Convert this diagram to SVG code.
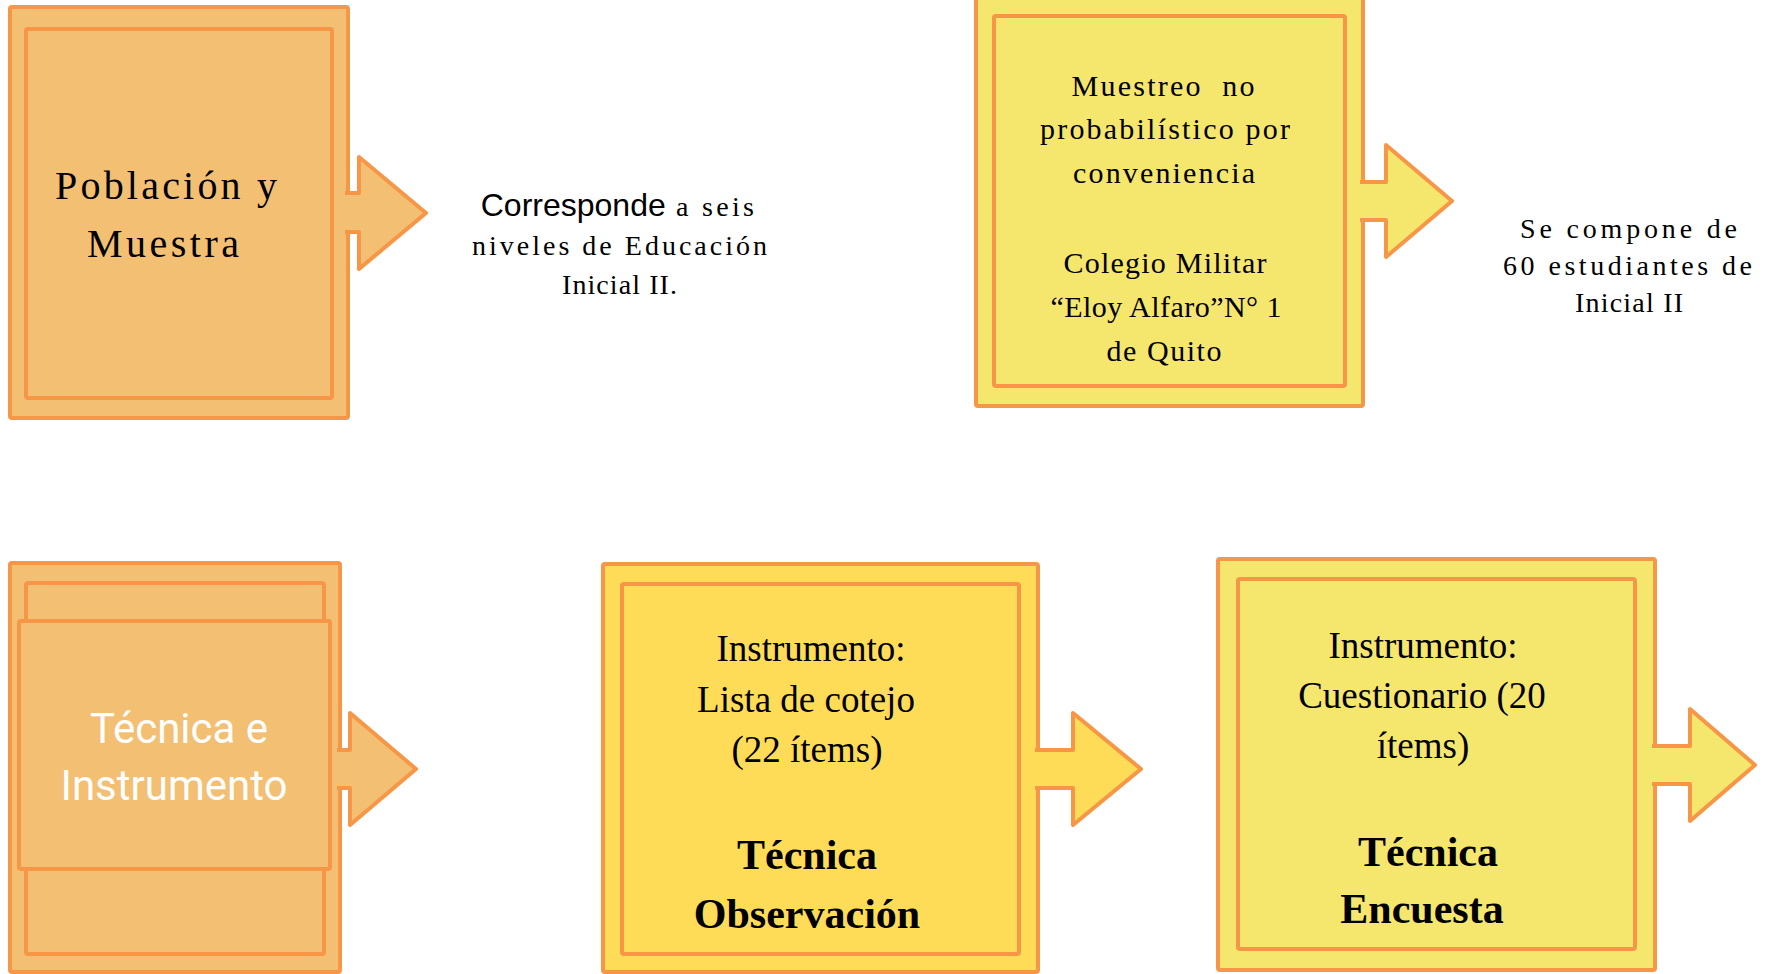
<svg xmlns="http://www.w3.org/2000/svg" width="1766" height="974" viewBox="0 0 1766 974">
<style>
.box{stroke:#F79646;stroke-width:4;stroke-linejoin:round}
.or{fill:#F2BF73}
.ye{fill:#F5E66E}
.go{fill:#FFDC57}
.arr{stroke:#F79646;stroke-width:4;stroke-linejoin:round}
.ser{font-family:"Liberation Serif","Times New Roman",serif;fill:#000;text-anchor:middle}
.sans{font-family:"Liberation Sans",Arial,sans-serif}
.rob{font-family:Roboto,"Liberation Sans",sans-serif;fill:#fff;text-anchor:middle;font-size:42px}
.reg{font-size:37px}
.bold{font-weight:bold;font-size:42px}
</style>
<rect width="1766" height="974" fill="#fff"/>
<g id="poblacion">
<rect class="box or" x="10" y="7" width="338" height="411" rx="2"/>
<rect class="box or" x="26" y="29" width="306" height="369" rx="2"/>
<text class="ser" font-size="40" x="166" y="199" textLength="222" lengthAdjust="spacing">Población y</text>
<text class="ser" font-size="40" x="163" y="257" textLength="152" lengthAdjust="spacing">Muestra</text>
</g>
<g id="corresponde">
<text class="ser" font-size="28" letter-spacing="3.3" x="619" y="216"><tspan class="sans" font-size="32" letter-spacing="0">Corresponde</tspan> a seis</text>
<text class="ser" font-size="28" x="619.5" y="255" textLength="295" lengthAdjust="spacing">niveles de Educación</text>
<text class="ser" font-size="28" x="619.5" y="294" textLength="115" lengthAdjust="spacing">Inicial II.</text>
</g>
<g id="muestreo">
<rect class="box ye" x="976" y="-10" width="387" height="416" rx="2"/>
<rect class="box ye" x="994" y="16" width="351" height="370" rx="2"/>
<g class="ser" font-size="30">
<text x="1163" y="96" textLength="183" lengthAdjust="spacing">Muestreo&#160; no</text>
<text x="1165" y="139" textLength="250" lengthAdjust="spacing">probabilístico por</text>
<text x="1164" y="183" textLength="182" lengthAdjust="spacing">conveniencia</text>
<text x="1165" y="273" textLength="203" lengthAdjust="spacing">Colegio Militar</text>
<text x="1166" y="317" textLength="231" lengthAdjust="spacing">“Eloy Alfaro”N° 1</text>
<text x="1164" y="361" textLength="115" lengthAdjust="spacing">de Quito</text>
</g>
</g>
<g id="compone">
<text class="ser" font-size="28" x="1628.5" y="238" textLength="217" lengthAdjust="spacing">Se compone de</text>
<text class="ser" font-size="28" x="1627.5" y="275" textLength="249" lengthAdjust="spacing">60 estudiantes de</text>
<text class="ser" font-size="28" x="1629" y="312" textLength="108" lengthAdjust="spacing">Inicial II</text>
</g>
<g id="tecnica-instrumento">
<rect class="box or" x="10" y="563" width="330" height="409" rx="2"/>
<rect class="box or" x="26" y="583" width="298" height="371" rx="2"/>
<rect class="box or" x="19" y="621" width="311" height="248" rx="2"/>
<text class="rob" x="179" y="743">Técnica e</text>
<text class="rob" x="174" y="800">Instrumento</text>
</g>
<g id="observacion">
<rect class="box go" x="603" y="564" width="435" height="408" rx="2"/>
<rect class="box go" x="622" y="584" width="397" height="370" rx="2"/>
<text class="ser reg" x="811" y="661">Instrumento:</text>
<text class="ser reg" x="806" y="712">Lista de cotejo</text>
<text class="ser reg" x="807" y="762">(22 ítems)</text>
<text class="ser bold" x="807" y="869">Técnica</text>
<text class="ser bold" x="807" y="928">Observación</text>
</g>
<g id="encuesta">
<rect class="box ye" x="1218" y="559" width="437" height="411" rx="2"/>
<rect class="box ye" x="1238" y="579" width="397" height="370" rx="2"/>
<text class="ser reg" x="1423" y="658">Instrumento:</text>
<text class="ser reg" x="1422" y="708">Cuestionario (20</text>
<text class="ser reg" x="1423" y="758">ítems)</text>
<text class="ser bold" x="1428" y="866">Técnica</text>
<text class="ser bold" x="1422" y="923">Encuesta</text>
</g>
<g id="connectors">
<path class="arr or" d="M345,193 H359 V157 L426,213 L359,269 V232 H345"/>
<path class="arr ye" d="M1360,182 H1386 V145 L1452,201 L1386,257 V220 H1360"/>
<path class="arr or" d="M337,750 H350 V713 L416,769 L350,825 V788 H337"/>
<path class="arr go" d="M1035,750 H1073 V713 L1141,769 L1073,825 V788 H1035"/>
<path class="arr ye" d="M1652,746 H1690 V709 L1755,765 L1690,821 V784 H1652"/>
</g>
</svg>
